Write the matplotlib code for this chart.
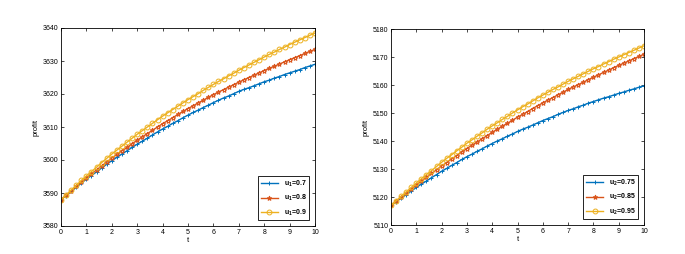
import numpy as np
import matplotlib.pyplot as plt

# time grid, one marker every 0.2
t = np.arange(0, 10.01, 0.2)

# left panel: profit for u1
profit_u1_07 = [3588.0,
    3589.2, 3590.5, 3591.7, 3593.0, 3594.2,
    3595.3, 3596.4, 3597.6, 3598.7, 3599.8,
    3600.8, 3601.8, 3602.8, 3603.8, 3604.8,
    3605.7, 3606.6, 3607.6, 3608.5, 3609.4,
    3610.2, 3611.1, 3611.9, 3612.8, 3613.6,
    3614.4, 3615.1, 3615.9, 3616.6, 3617.4,
    3618.1, 3618.8, 3619.4, 3620.1, 3620.8,
    3621.4, 3621.9, 3622.5, 3623.1, 3623.7,
    3624.2, 3624.8, 3625.3, 3625.9, 3626.4,
    3626.9, 3627.4, 3628.0, 3628.5, 3629.0]
profit_u1_08 = [3588.0,
    3589.3, 3590.6, 3592.0, 3593.3, 3594.6,
    3595.8, 3597.0, 3598.2, 3599.4, 3600.6,
    3601.7, 3602.8, 3603.8, 3604.9, 3606.0,
    3607.0, 3608.0, 3609.0, 3610.0, 3611.0,
    3611.9, 3612.8, 3613.8, 3614.7, 3615.6,
    3616.4, 3617.3, 3618.1, 3619.0, 3619.8,
    3620.6, 3621.3, 3622.1, 3622.8, 3623.6,
    3624.3, 3625.0, 3625.7, 3626.4, 3627.1,
    3627.8, 3628.4, 3629.1, 3629.7, 3630.4,
    3631.0, 3631.6, 3632.3, 3632.9, 3633.5]
profit_u1_09 = [3588.0,
    3589.4, 3590.9, 3592.3, 3593.8, 3595.2,
    3596.5, 3597.8, 3599.2, 3600.5, 3601.8,
    3603.0, 3604.2, 3605.4, 3606.6, 3607.8,
    3608.9, 3610.0, 3611.1, 3612.2, 3613.3,
    3614.3, 3615.3, 3616.3, 3617.3, 3618.3,
    3619.2, 3620.1, 3621.1, 3622.0, 3622.9,
    3623.8, 3624.6, 3625.5, 3626.3, 3627.2,
    3628.0, 3628.8, 3629.6, 3630.4, 3631.2,
    3632.0, 3632.7, 3633.5, 3634.2, 3635.0,
    3635.7, 3636.4, 3637.1, 3637.8, 3638.5]

# right panel: profit for u2
profit_u2_075 = [5117.0,
    5118.3, 5119.6, 5120.8, 5122.1, 5123.4,
    5124.6, 5125.7, 5126.9, 5128.0, 5129.2,
    5130.2, 5131.3, 5132.3, 5133.4, 5134.4,
    5135.3, 5136.3, 5137.2, 5138.2, 5139.1,
    5140.0, 5140.8, 5141.7, 5142.5, 5143.4,
    5144.2, 5144.9, 5145.7, 5146.5, 5147.3,
    5148.0, 5148.7, 5149.5, 5150.2, 5150.9,
    5151.5, 5152.2, 5152.8, 5153.5, 5154.1,
    5154.7, 5155.3, 5155.8, 5156.4, 5157.0,
    5157.5, 5158.1, 5158.6, 5159.2, 5159.7]
profit_u2_085 = [5117.0,
    5118.5, 5119.9, 5121.4, 5122.8, 5124.3,
    5125.7, 5127.0, 5128.4, 5129.7, 5131.1,
    5132.3, 5133.6, 5134.8, 5136.1, 5137.3,
    5138.5, 5139.6, 5140.8, 5141.9, 5143.1,
    5144.2, 5145.3, 5146.3, 5147.4, 5148.5,
    5149.5, 5150.5, 5151.6, 5152.6, 5153.6,
    5154.6, 5155.5, 5156.5, 5157.4, 5158.4,
    5159.3, 5160.1, 5161.0, 5161.9, 5162.8,
    5163.6, 5164.5, 5165.3, 5166.2, 5167.0,
    5167.8, 5168.6, 5169.4, 5170.2, 5171.0]
profit_u2_095 = [5117.0,
    5118.6, 5120.2, 5121.8, 5123.4, 5125.0,
    5126.5, 5128.0, 5129.4, 5130.9, 5132.4,
    5133.8, 5135.1, 5136.5, 5137.8, 5139.2,
    5140.4, 5141.7, 5142.9, 5144.2, 5145.4,
    5146.5, 5147.7, 5148.8, 5150.0, 5151.1,
    5152.2, 5153.2, 5154.3, 5155.4, 5156.4,
    5157.4, 5158.4, 5159.3, 5160.3, 5161.3,
    5162.2, 5163.1, 5164.0, 5164.9, 5165.8,
    5166.6, 5167.5, 5168.3, 5169.2, 5170.0,
    5170.8, 5171.6, 5172.4, 5173.2, 5174.0]

labels_u1 = ["u$_1$=0.7", "u$_1$=0.8", "u$_1$=0.9"]
labels_u2 = ["u$_2$=0.75", "u$_2$=0.85", "u$_2$=0.95"]

colors = ["#0072BD", "#D95319", "#EDB120"]
markers = ["+", "*", "o"]

plt.rcParams['font.family'] = ['Liberation Sans', 'DejaVu Sans']
plt.rcParams['font.size'] = 5
plt.rcParams['mathtext.default'] = 'regular'

fig = plt.figure(figsize=(6.85, 2.54), dpi=100)
ax1 = fig.add_axes([61/685, 28/254, 254/685, 198/254])
ax2 = fig.add_axes([391/685, 29/254, 253/685, 196/254])


def draw(ax, series, labels, ylim):
    for ys, lab, c, m in zip(series, labels, colors, markers):
        ax.plot(t, ys, color=c, marker=m, markersize=3.5, linewidth=1,
                markerfacecolor='none', markeredgewidth=0.7, label=lab)
    ax.set_xlim(0, 10)
    ax.set_ylim(*ylim)
    ax.set_xticks(range(0, 11))
    ax.set_yticks(np.arange(ylim[0], ylim[1] + 1, 10))
    ax.tick_params(direction='in', length=2.5, width=0.5, top=True, right=True,
                   labelsize=5, pad=2)
    for sp in ax.spines.values():
        sp.set_linewidth(0.6)
    ax.set_xlabel("t", fontsize=5.5, labelpad=1)
    ax.set_ylabel("profit", fontsize=5.5, labelpad=2)
    leg = ax.legend(loc='lower right', fontsize=5, fancybox=False,
                    edgecolor='black', framealpha=1, handlelength=2.5,
                    borderaxespad=0.8, labelspacing=0.6)
    leg.get_frame().set_linewidth(0.6)
    for txt in leg.get_texts():
        txt.set_fontweight('bold')


draw(ax1, [profit_u1_07, profit_u1_08, profit_u1_09], labels_u1, (3580, 3640))
draw(ax2, [profit_u2_075, profit_u2_085, profit_u2_095], labels_u2, (5110, 5180))

fig.savefig("out.png", dpi=100)
